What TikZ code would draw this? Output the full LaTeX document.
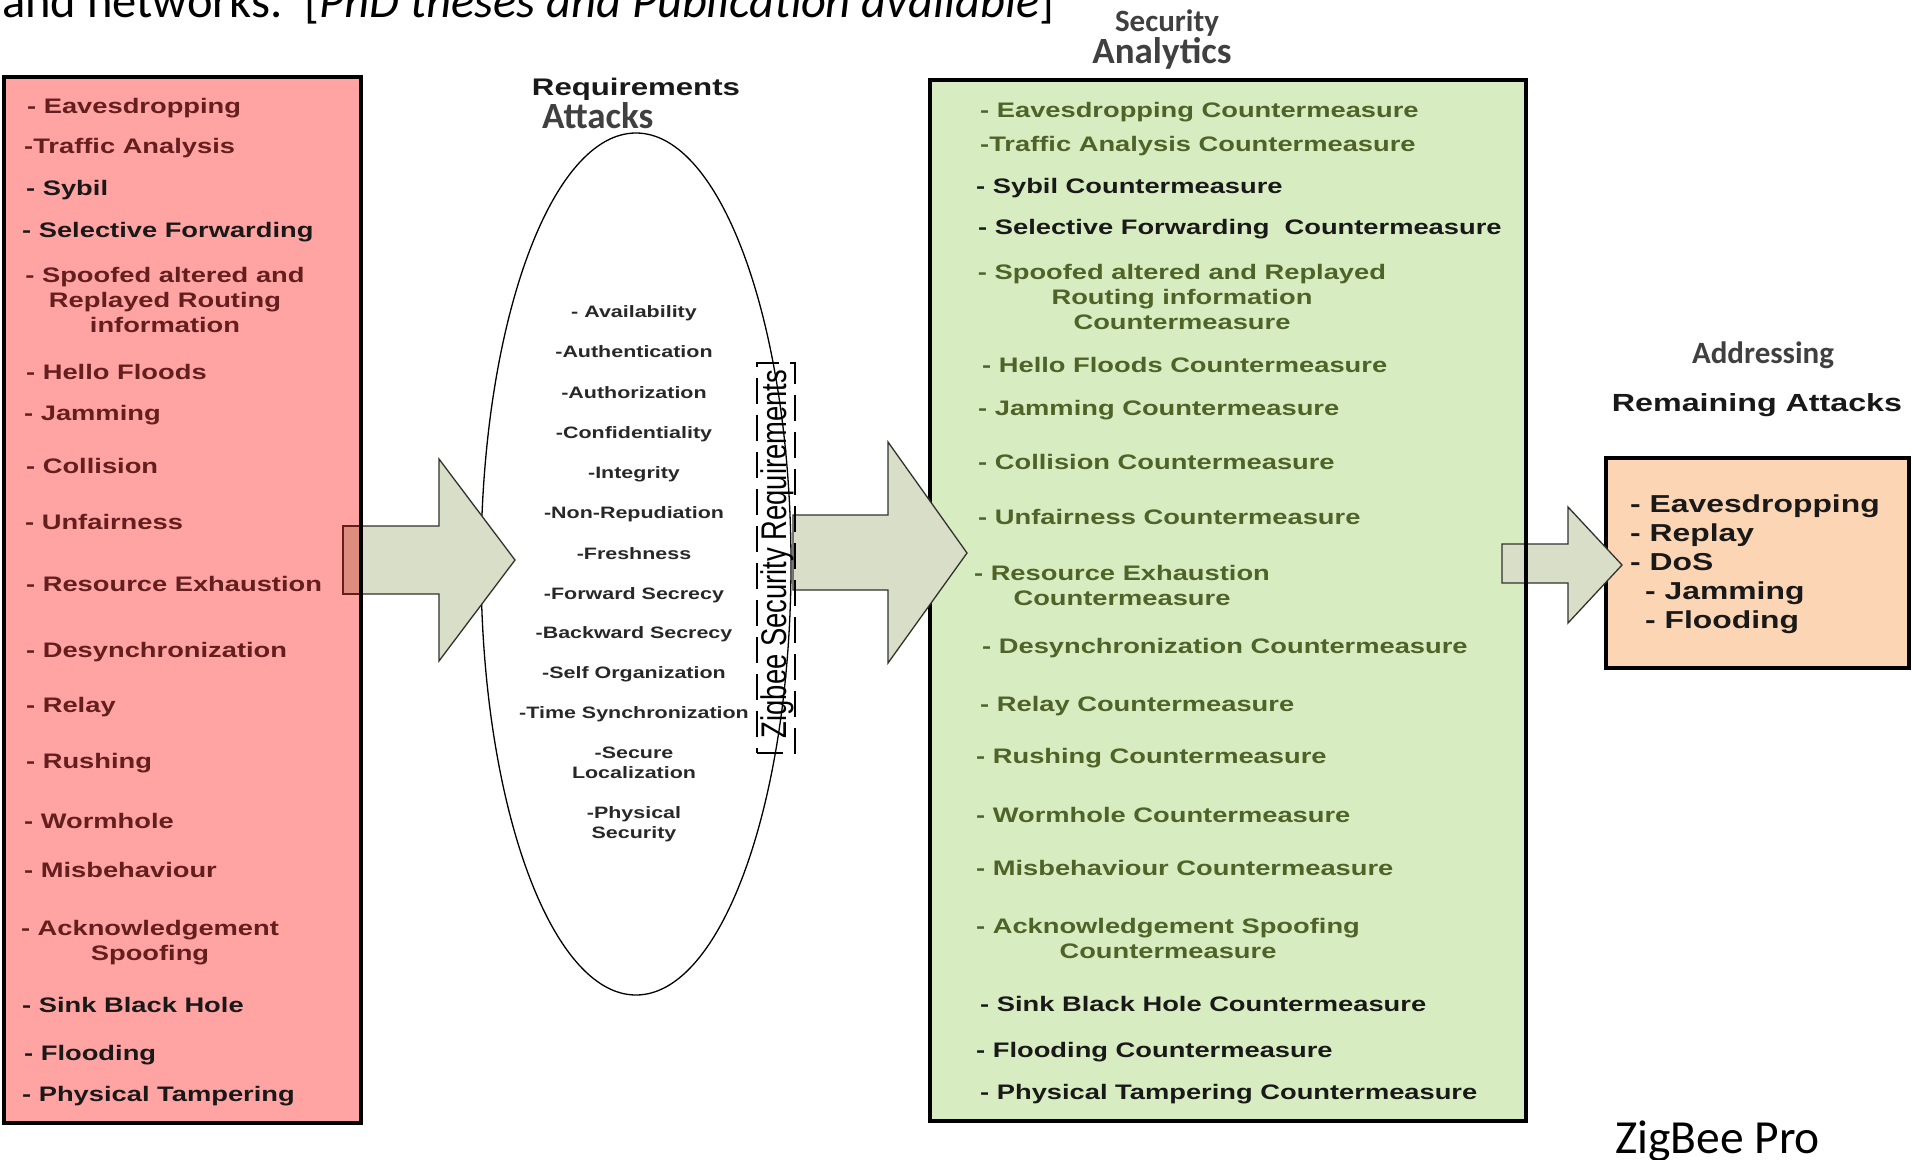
\documentclass[tikz,border=0pt]{standalone}
\usepackage{fontspec}
\usepackage{graphicx}
\usetikzlibrary{shapes.geometric}
\setmainfont{Carlito}
\newfontfamily\fcal{Carlito}
\newfontfamily\farial{Liberation Sans}[FakeStretch=1.3]
\newfontfamily\farialn{Liberation Sans}
\frenchspacing

\definecolor{pinkfill}{RGB}{255,163,163}
\definecolor{greenfill}{RGB}{216,236,193}
\definecolor{peachfill}{RGB}{252,213,181}
\definecolor{arrowfill}{RGB}{217,222,200}
\definecolor{arrowline}{RGB}{50,50,45}
\definecolor{overlapfill}{RGB}{222,140,126}
\definecolor{darkred}{RGB}{99,30,30}
\definecolor{olivetxt}{RGB}{79,98,40}
\definecolor{nearblack}{RGB}{25,25,25}
\definecolor{headgray}{RGB}{64,64,64}
\definecolor{reqgray}{RGB}{40,40,40}

\tikzset{
  listbox/.style={draw=black, line width=3.5pt, inner sep=0pt, outer sep=0pt, anchor=north west},
  itm/.style={inner sep=0pt, anchor=base west, font=\farial\bfseries\fontsize{21}{25}\selectfont},
  atkred/.style={itm, text=darkred},
  atkblk/.style={itm, text=nearblack},
  ctrgrn/.style={itm, text=olivetxt},
  ctrblk/.style={itm, text=nearblack},
  reqitem/.style={inner sep=0pt, anchor=base, text=reqgray, font=\farial\bfseries\fontsize{16.5}{20}\selectfont},
  headc/.style={inner sep=0pt, anchor=base, text=headgray},
  fatarrow/.style={fill=arrowfill, draw=arrowline, line width=1.3pt, line join=miter},
}

\begin{document}
\begin{tikzpicture}[x=1pt, y=-1pt]
\useasboundingbox (0,0) rectangle (1913,1159);
\fill[white] (0,0) rectangle (1913,1159);

% caption line running off the top edge
\node[anchor=base west, inner sep=0pt, font=\fcal\fontsize{48.5}{56}\selectfont] (topline) at (2,17)
  {and networks.\ \ [\textit{PhD theses and Publication available}]};

% ---------- requirements ellipse ----------
\node[draw=black, ellipse, line width=1.3pt, minimum width=310pt, minimum height=862pt, inner sep=0pt] (reqs) at (636,564) {};

% ---------- attacks box ----------
\node[listbox, fill=pinkfill, minimum width=357pt, minimum height=1046pt] (attacks) at (4,77) {};

% ---------- countermeasures box ----------
\node[listbox, fill=greenfill, minimum width=596pt, minimum height=1041pt] (counter) at (930,80) {};

% ---------- remaining attacks box ----------
\node[listbox, fill=peachfill, minimum width=303pt, minimum height=210pt] (remain) at (1606,458) {};

% ---------- block arrows ----------
\draw[fatarrow] (343,526) -- (439,526) -- (439,459) -- (515,560) -- (439,661) -- (439,594) -- (343,594) -- cycle;
\fill[overlapfill] (343,526) rectangle (361,594);
\draw[line width=1.3pt, draw=darkred] (361,526) -- (343,526) -- (343,594) -- (361,594);
\draw[line width=3.5pt] (attacks.north east) -- (attacks.south east);

\draw[fatarrow] (793,515) -- (888,515) -- (888,442) -- (967,553) -- (888,663) -- (888,590) -- (793,590) -- cycle;

\draw[fatarrow] (1502,544) -- (1568,544) -- (1568,507) -- (1622,565) -- (1568,623) -- (1568,583) -- (1502,583) -- cycle;
\draw[line width=3.5pt] (counter.north east) -- (counter.south east);

% ---------- zigbee requirements bracket ----------
\node[draw=black, line width=1.4pt, dash pattern=on 26pt off 11pt, minimum width=38pt, minimum height=390pt, inner sep=0pt] (zbox) at (776,558) {};
\node[rotate=90, anchor=base, inner sep=0pt, text=black, font=\farialn\fontsize{27.4}{30}\selectfont] (zsr) at (786,554)
  {\scalebox{1}[1.3]{Zigbee Security Requirements}};

% ---------- headings ----------
\node[headc, font=\fcal\bfseries\fontsize{31}{34}\selectfont] (hsec) at (1167,31) {Security};
\node[headc, font=\fcal\bfseries\fontsize{37}{42}\selectfont] (hana) at (1162,63) {Analytics};
\node[inner sep=0pt, anchor=base, text=nearblack, font=\farial\bfseries\fontsize{24}{28}\selectfont] (hreq) at (636,95) {Requirements};
\node[headc, anchor=base west, font=\fcal\bfseries\fontsize{37}{42}\selectfont] (hatk) at (542,128) {Attacks};
\node[headc, font=\fcal\bfseries\fontsize{31}{36}\selectfont] (hadd) at (1763,363) {Addressing};
\node[inner sep=0pt, anchor=base, text=nearblack, font=\farial\bfseries\fontsize{24.8}{28}\selectfont] (hrem) at (1757,411) {Remaining Attacks};

% ---------- attack list ----------
\node[atkred] (a1)  at (27,113)  {- Eavesdropping};
\node[atkred] (a2)  at (24,153)  {-Traffic Analysis};
\node[atkblk] (a3)  at (26,195)  {- Sybil};
\node[atkblk] (a4)  at (22,237)  {- Selective Forwarding};
\node[atkred, anchor=base] (a5) at (165,282)
  {\begin{tabular}[t]{@{}c@{}}- Spoofed altered and\\Replayed Routing\\information\end{tabular}};
\node[atkred] (a6)  at (26,379)  {- Hello Floods};
\node[atkred] (a7)  at (24,420)  {- Jamming};
\node[atkred] (a8)  at (26,473)  {- Collision};
\node[atkred] (a9)  at (25,529)  {- Unfairness};
\node[atkred] (a10) at (26,591)  {- Resource Exhaustion};
\node[atkred] (a11) at (26,657)  {- Desynchronization};
\node[atkred] (a12) at (26,712)  {- Relay};
\node[atkred] (a13) at (26,768)  {- Rushing};
\node[atkred] (a14) at (24,828)  {- Wormhole};
\node[atkred] (a15) at (24,877)  {- Misbehaviour};
\node[atkred, anchor=base] (a16) at (150,935)
  {\begin{tabular}[t]{@{}c@{}}- Acknowledgement\\Spoofing\end{tabular}};
\node[atkblk] (a17) at (22,1012) {- Sink Black Hole};
\node[atkblk] (a18) at (24,1060) {- Flooding};
\node[atkblk] (a19) at (22,1101) {- Physical Tampering};

% ---------- requirement list ----------
\node[reqitem] (r1)  at (634,317) {- Availability};
\node[reqitem] (r2)  at (634,357) {-Authentication};
\node[reqitem] (r3)  at (634,398) {-Authorization};
\node[reqitem] (r4)  at (634,438) {-Confidentiality};
\node[reqitem] (r5)  at (634,478) {-Integrity};
\node[reqitem] (r6)  at (634,518) {-Non-Repudiation};
\node[reqitem] (r7)  at (634,559) {-Freshness};
\node[reqitem] (r8)  at (634,599) {-Forward Secrecy};
\node[reqitem] (r9)  at (634,638) {-Backward Secrecy};
\node[reqitem] (r10) at (634,678) {-Self Organization};
\node[reqitem] (r11) at (634,718) {-Time Synchronization};
\node[reqitem] (r12) at (634,758) {\begin{tabular}[t]{@{}c@{}}-Secure\\Localization\end{tabular}};
\node[reqitem] (r13) at (634,818) {\begin{tabular}[t]{@{}c@{}}-Physical\\Security\end{tabular}};

% ---------- countermeasure list ----------
\node[ctrgrn] (c1)  at (980,117)  {- Eavesdropping Countermeasure};
\node[ctrgrn] (c2)  at (980,151)  {-Traffic Analysis Countermeasure};
\node[ctrblk] (c3)  at (976,193)  {- Sybil Countermeasure};
\node[ctrblk] (c4)  at (978,234)  {- Selective Forwarding\ \ Countermeasure};
\node[ctrgrn, anchor=base] (c5) at (1182,279)
  {\begin{tabular}[t]{@{}c@{}}- Spoofed altered and Replayed\\Routing information\\Countermeasure\end{tabular}};
\node[ctrgrn] (c6)  at (982,372)  {- Hello Floods Countermeasure};
\node[ctrgrn] (c7)  at (978,415)  {- Jamming Countermeasure};
\node[ctrgrn] (c8)  at (978,469)  {- Collision Countermeasure};
\node[ctrgrn] (c9)  at (978,524)  {- Unfairness Countermeasure};
\node[ctrgrn, anchor=base] (c10) at (1122,580)
  {\begin{tabular}[t]{@{}c@{}}- Resource Exhaustion\\Countermeasure\end{tabular}};
\node[ctrgrn] (c11) at (982,653)  {- Desynchronization Countermeasure};
\node[ctrgrn] (c12) at (980,711)  {- Relay Countermeasure};
\node[ctrgrn] (c13) at (976,763)  {- Rushing Countermeasure};
\node[ctrgrn] (c14) at (976,822)  {- Wormhole Countermeasure};
\node[ctrgrn] (c15) at (976,875)  {- Misbehaviour Countermeasure};
\node[ctrgrn, anchor=base] (c16) at (1168,933)
  {\begin{tabular}[t]{@{}c@{}}- Acknowledgement Spoofing\\Countermeasure\end{tabular}};
\node[ctrblk] (c17) at (980,1011) {- Sink Black Hole Countermeasure};
\node[ctrblk] (c18) at (976,1057) {- Flooding Countermeasure};
\node[ctrblk] (c19) at (980,1099) {- Physical Tampering Countermeasure};

% ---------- remaining attacks list ----------
\node[itm, text=nearblack, font=\farial\bfseries\fontsize{24.5}{29}\selectfont] (rl) at (1630,512)
  {\begin{tabular}[t]{@{}l@{}}- Eavesdropping\\- Replay\\- DoS\\\hspace*{15pt}- Jamming\\\hspace*{15pt}- Flooding\end{tabular}};

% ---------- footer ----------
\node[anchor=base west, inner sep=0pt, font=\fcal\fontsize{47.5}{56}\selectfont] (zbp) at (1615,1153) {ZigBee Pro};
\end{tikzpicture}
\end{document}
